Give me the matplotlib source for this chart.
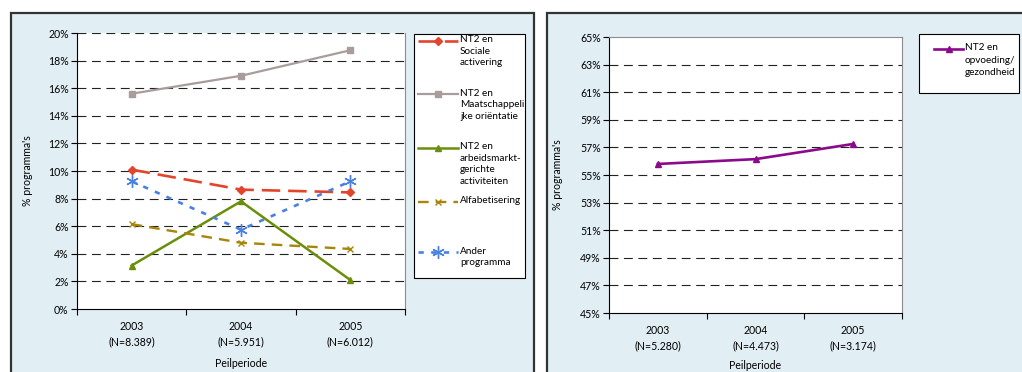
import matplotlib
matplotlib.use('Agg')
import matplotlib.pyplot as plt
from matplotlib.patches import Rectangle
from matplotlib.ticker import FixedLocator, PercentFormatter

plt.rcParams['font.family'] = ['Lato', 'DejaVu Sans']
FS = 7.6
LFS = 7.2  # legend text

# data
labels_left = ['2003\n(N=8.389)', '2004\n(N=5.951)', '2005\n(N=6.012)']
labels_right = ['2003\n(N=5.280)', '2004\n(N=4.473)', '2005\n(N=3.174)']

sociale = [10.1, 8.65, 8.45]
maatschappelijk = [15.6, 16.9, 18.75]
arbeidsmarkt = [3.15, 7.8, 2.1]
alfabetisering = [6.15, 4.8, 4.35]
ander = [9.25, 5.75, 9.25]
opvoeding = [55.8, 56.15, 57.25]

series_left = [
    ('NT2 en\nSociale\nactivering', sociale,
     dict(color='#E2452B', lw=1.9, ls=(0, (7, 3)), marker='D', ms=4.5)),
    ('NT2 en\nMaatschappeli\njke ori\u00ebntatie', maatschappelijk,
     dict(color='#A89C9C', lw=1.6, ls='-', marker='s', ms=4.2)),
    ('NT2 en\narbeidsmarkt-\ngerichte\nactiviteiten', arbeidsmarkt,
     dict(color='#6B8E0C', lw=1.8, ls='-', marker='^', ms=5)),
    ('Alfabetisering', alfabetisering,
     dict(color='#A8860A', lw=1.7, ls=(0, (4.5, 3)), marker='x', ms=5, mew=1)),
    ('Ander\nprogramma', ander,
     dict(color='#4A80E2', lw=1.9, ls=(0, (2, 2.8)), marker=(6, 2, 0), ms=9, mew=1)),
]

W, H = 1022, 372
fig = plt.figure(figsize=(W / 100, H / 100), dpi=100)

# panel backgrounds in pixel coords
bg = fig.add_axes([0, 0, 1, 1], zorder=-10)
bg.set_xlim(0, W)
bg.set_ylim(H, 0)
bg.axis('off')
bg.add_patch(Rectangle((11, 13), 523, 380, fc='#E1EEF3', ec='#333333', lw=1.6))
bg.add_patch(Rectangle((546.5, 13), 490, 380, fc='#E1EEF3', ec='#333333', lw=1.6))


def px_axes(x0, y0, x1, y1):
    return fig.add_axes([x0 / W, 1 - y1 / H, (x1 - x0) / W, (y1 - y0) / H], zorder=1)


def style_axes(ax, ymin, ymax, labels, top_grid):
    ax.set_facecolor('white')
    ax.set_xlim(-0.5, 2.5)
    ax.set_ylim(ymin, ymax)
    ax.set_yticks(range(ymin, ymax + 1, 2))
    ax.yaxis.set_major_formatter(PercentFormatter(decimals=0))
    ax.xaxis.set_major_locator(FixedLocator([-0.5, 0.5, 1.5, 2.5]))
    ax.xaxis.set_major_formatter(plt.NullFormatter())
    ax.set_xticks([0, 1, 2], minor=True)
    ax.set_xticklabels(labels, minor=True)
    ax.tick_params(axis='x', which='major', direction='out', length=4, width=0.8)
    ax.tick_params(axis='x', which='minor', length=0, pad=8.5, labelsize=FS)
    ax.tick_params(axis='y', direction='out', length=4, width=0.8, labelsize=FS, pad=2)
    for lab in ax.get_xticklabels(minor=True):
        lab.set_linespacing(1.5)
    for y in range(ymin + 2, ymax + (1 if top_grid else -1), 2):
        ax.axhline(y, color='#222222', lw=0.8, ls=(0, (8, 5)), zorder=0)
    ax.spines['left'].set_color('black')
    ax.spines['bottom'].set_color('black')
    ax.spines['right'].set_color('#8C8C8C')
    ax.spines['top'].set_color('#8C8C8C')
    ax.spines['top'].set_visible(not top_grid)
    ax.set_ylabel("% programma's", fontsize=FS)
    ax.set_xlabel('Peilperiode', fontsize=FS)
    ax.xaxis.label.set_va('center')


# left chart
ax1 = px_axes(77, 33, 405, 309)
style_axes(ax1, 0, 20, labels_left, True)
ax1.yaxis.set_label_coords(-0.134, 0.5)
ax1.xaxis.set_label_coords(0.5, -0.196)
for name, vals, st in series_left:
    ax1.plot(range(3), vals, clip_on=False, zorder=3, **st)

# right chart
ax2 = px_axes(609, 37, 902, 313)
style_axes(ax2, 45, 65, labels_right, False)
ax2.yaxis.set_label_coords(-0.157, 0.5)
ax2.xaxis.set_label_coords(0.5, -0.192)
st_right = dict(color='#8B0A8B', lw=1.9, ls='-', marker='^', ms=5)
ax2.plot(range(3), opvoeding, zorder=3, **st_right)

# legends drawn in pixel coords
lg = fig.add_axes([0, 0, 1, 1], zorder=5)
lg.set_xlim(0, W)
lg.set_ylim(H, 0)
lg.axis('off')
lg.patch.set_alpha(0)
lg.add_patch(Rectangle((414, 34), 111, 244, fc='white', ec='black', lw=0.8))
lg.add_patch(Rectangle((919, 34), 100, 59, fc='white', ec='black', lw=0.8))

left_rows = [40.5, 94, 147.5, 201.5, 252]
for (name, vals, st), y in zip(series_left, left_rows):
    lg.plot([418, 438, 458], [y, y, y], markevery=[1], **st)
    lg.text(460, y - 5.5, name, fontsize=LFS, va='top', ha='left', linespacing=1.37)

lg.plot([934, 948.5, 963], [49, 49, 49], markevery=[1], **st_right)
lg.text(965, 43.5, 'NT2 en\nopvoeding/\ngezondheid', fontsize=LFS, va='top', ha='left',
        linespacing=1.45)

fig.savefig('out.png', dpi=100)
